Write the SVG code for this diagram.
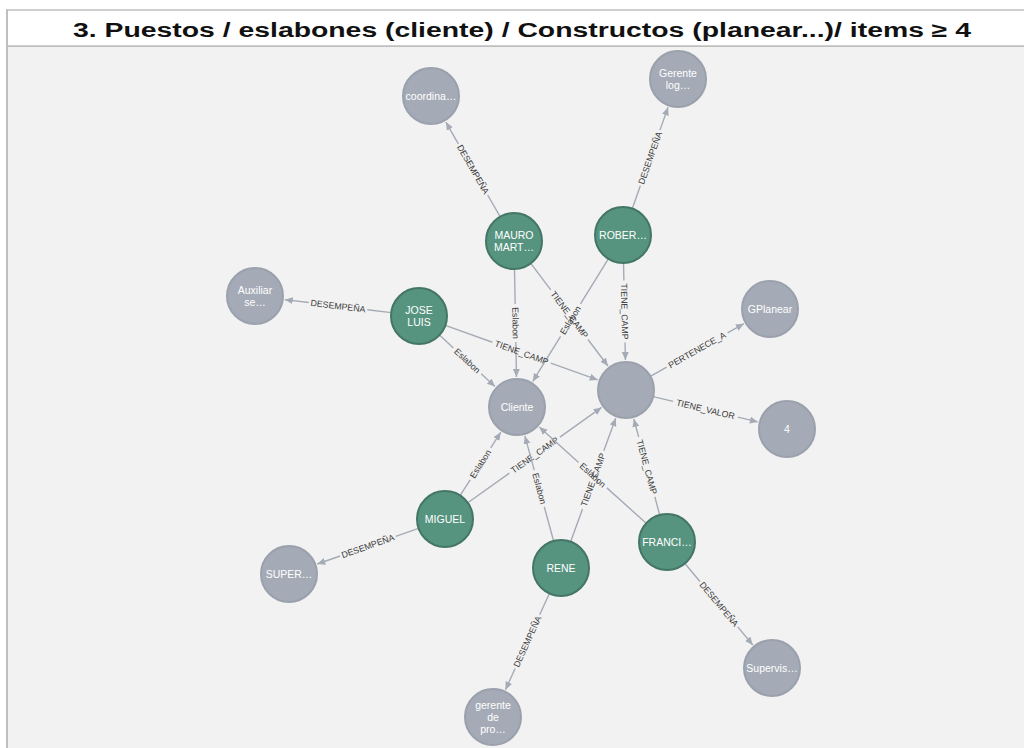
<svg xmlns="http://www.w3.org/2000/svg" width="1024" height="748" viewBox="0 0 1024 748">
<style>
.bg{fill:#f2f2f2}
.frame{stroke:#bfbfbf;fill:none}
.title{font-family:"Liberation Sans",Arial,sans-serif;font-weight:bold;font-size:20px;fill:#111}
.ng{fill:#a5abb6;stroke:#9aa1ac;stroke-width:2}
.nr{fill:#569480;stroke:#447666;stroke-width:2}
.nt{font-family:"Liberation Sans",Arial,Helvetica,sans-serif;font-size:10.5px;fill:#ffffff;text-anchor:middle}
.e{stroke:#a5abb6;stroke-width:1.4;fill:none;marker-end:url(#arr)}
.el{font-family:"Liberation Sans",Arial,Helvetica,sans-serif;font-size:8.8px;fill:#3a3a3a;text-anchor:middle}
</style>
<defs>
<marker id="arr" markerWidth="9" markerHeight="8" refX="8" refY="3.5" orient="auto" markerUnits="userSpaceOnUse">
<path d="M0,0 L8,3.5 L0,7 z" fill="#a5abb6"/>
</marker>
</defs>
<rect x="0" y="0" width="1024" height="748" fill="#ffffff"/>
<rect class="bg" x="8" y="47" width="1016" height="701"/>
<g id="frame">
<line class="frame" x1="7" y1="10" x2="1024" y2="10" stroke-width="1.7"/>
<line class="frame" x1="7" y1="46.2" x2="1024" y2="46.2" stroke-width="1.7"/>
<line class="frame" x1="7" y1="9.2" x2="7" y2="748" stroke-width="2"/>
<text class="title" x="73" y="37" textLength="898" lengthAdjust="spacingAndGlyphs">3. Puestos / eslabones (cliente) / Constructos (planear...)/  items ≥ 4</text>
</g>
<g id="connectors">
<line class="e" x1="500.09" y1="216.70" x2="445.90" y2="122.04" stroke-dasharray="25 59 300"/>
<text class="el" transform="translate(473.0,169.4) rotate(60.2)" dy="3">DESEMPEÑA</text>
<line class="e" x1="632.31" y1="208.59" x2="668.02" y2="107.29" stroke-dasharray="24.2 59 300"/>
<text class="el" transform="translate(650.2,157.9) rotate(-70.6)" dy="3">DESEMPEÑA</text>
<line class="e" x1="391.21" y1="312.61" x2="284.78" y2="299.63" stroke-dasharray="24.1 59 300"/>
<text class="el" transform="translate(338.0,306.1) rotate(6.95)" dy="3">DESEMPEÑA</text>
<line class="e" x1="418.59" y1="528.31" x2="317.29" y2="564.02" stroke-dasharray="24.2 59 300"/>
<text class="el" transform="translate(367.9,546.2) rotate(-19.4)" dy="3">DESEMPEÑA</text>
<line class="e" x1="549.37" y1="593.47" x2="505.46" y2="689.71" stroke-dasharray="23.4 59 300"/>
<text class="el" transform="translate(527.4,641.6) rotate(-65.5)" dy="3">DESEMPEÑA</text>
<line class="e" x1="684.93" y1="563.51" x2="752.79" y2="644.95" stroke-dasharray="23.5 59 300"/>
<text class="el" transform="translate(718.9,604.2) rotate(50.2)" dy="3">DESEMPEÑA</text>
<line class="e" x1="514.51" y1="268.99" x2="516.46" y2="377.01" stroke-dasharray="35 38 300"/>
<text class="el" transform="translate(515.5,323.0) rotate(88.96)" dy="3">Eslabon</text>
<line class="e" x1="530.82" y1="263.38" x2="607.97" y2="366.02" stroke-dasharray="33.2 62 300"/>
<text class="el" transform="translate(569.4,314.7) rotate(53.07)" dy="3">TIENE_CAMP</text>
<line class="e" x1="608.31" y1="258.84" x2="532.74" y2="381.46" stroke-dasharray="53 38 300"/>
<text class="el" transform="translate(570.5,320.2) rotate(-58.4)" dy="3">Eslabon</text>
<line class="e" x1="623.54" y1="262.99" x2="625.42" y2="360.01" stroke-dasharray="17.5 62 300"/>
<text class="el" transform="translate(624.5,311.5) rotate(88.9)" dy="3">TIENE_CAMP</text>
<line class="e" x1="439.52" y1="335.05" x2="495.02" y2="386.59" stroke-dasharray="18.9 38 300"/>
<text class="el" transform="translate(467.3,360.8) rotate(42.9)" dy="3">Eslabon</text>
<line class="e" x1="445.37" y1="325.43" x2="597.75" y2="379.90" stroke-dasharray="49.9 62 300"/>
<text class="el" transform="translate(521.6,352.7) rotate(19.67)" dy="3">TIENE_CAMP</text>
<line class="e" x1="460.14" y1="495.45" x2="500.78" y2="432.24" stroke-dasharray="18.6 38 300"/>
<text class="el" transform="translate(480.5,463.9) rotate(-57.3)" dy="3">Eslabon</text>
<line class="e" x1="467.80" y1="502.75" x2="601.57" y2="407.41" stroke-dasharray="51.1 62 300"/>
<text class="el" transform="translate(534.7,455.1) rotate(-35.5)" dy="3">TIENE_CAMP</text>
<line class="e" x1="553.62" y1="540.99" x2="524.91" y2="435.94" stroke-dasharray="35.45 38 300"/>
<text class="el" transform="translate(539.3,488.5) rotate(74.7)" dy="3">Eslabon</text>
<line class="e" x1="570.60" y1="541.70" x2="615.71" y2="418.18" stroke-dasharray="34.75 62 300"/>
<text class="el" transform="translate(593.2,479.9) rotate(-69.9)" dy="3">TIENE_CAMP</text>
<line class="e" x1="646.19" y1="523.27" x2="539.30" y2="427.07" stroke-dasharray="52.9 38 300"/>
<text class="el" transform="translate(592.7,475.2) rotate(42)" dy="3">Eslabon</text>
<line class="e" x1="659.71" y1="514.97" x2="633.81" y2="418.97" stroke-dasharray="18.7 62 300"/>
<text class="el" transform="translate(646.8,467.0) rotate(74.9)" dy="3">TIENE_CAMP</text>
<line class="e" x1="650.40" y1="376.27" x2="743.85" y2="323.71" stroke-dasharray="18.6 70 300"/>
<text class="el" transform="translate(697.1,350.0) rotate(-29.4)" dy="3">PERTENECE_A</text>
<line class="e" x1="653.21" y1="396.59" x2="757.84" y2="421.94" stroke-dasharray="20.5 66.6 300"/>
<text class="el" transform="translate(705.5,409.3) rotate(13.6)" dy="3">TIENE_VALOR</text>
</g>
<g id="n-coordina"><circle class="ng" cx="431" cy="96" r="28"/><text class="nt" x="431" y="100">coordina…</text></g>
<g id="n-gerente-log"><circle class="ng" cx="678" cy="79" r="28"/><text class="nt" x="678" y="77">Gerente</text><text class="nt" x="678" y="89">log…</text></g>
<g id="n-mauro"><circle class="nr" cx="514" cy="241" r="28"/><text class="nt" x="514" y="239">MAURO</text><text class="nt" x="514" y="251">MART…</text></g>
<g id="n-rober"><circle class="nr" cx="623" cy="235" r="28"/><text class="nt" x="623" y="239">ROBER…</text></g>
<g id="n-auxiliar"><circle class="ng" cx="255" cy="296" r="28"/><text class="nt" x="255" y="294">Auxiliar</text><text class="nt" x="255" y="306">se…</text></g>
<g id="n-jose"><circle class="nr" cx="419" cy="316" r="28"/><text class="nt" x="419" y="314">JOSE</text><text class="nt" x="419" y="326">LUIS</text></g>
<g id="n-cliente"><circle class="ng" cx="517" cy="407" r="28"/><text class="nt" x="517" y="411">Cliente</text></g>
<g id="n-center"><circle class="ng" cx="626" cy="390" r="28"/></g>
<g id="n-gplanear"><circle class="ng" cx="770" cy="309" r="28"/><text class="nt" x="770" y="313">GPlanear</text></g>
<g id="n-4"><circle class="ng" cx="787" cy="429" r="28"/><text class="nt" x="787" y="433">4</text></g>
<g id="n-miguel"><circle class="nr" cx="445" cy="519" r="28"/><text class="nt" x="445" y="523">MIGUEL</text></g>
<g id="n-super"><circle class="ng" cx="289" cy="574" r="28"/><text class="nt" x="289" y="578">SUPER…</text></g>
<g id="n-rene"><circle class="nr" cx="561" cy="568" r="28"/><text class="nt" x="561" y="572">RENE</text></g>
<g id="n-franci"><circle class="nr" cx="667" cy="542" r="28"/><text class="nt" x="667" y="546">FRANCI…</text></g>
<g id="n-supervis"><circle class="ng" cx="772" cy="668" r="28"/><text class="nt" x="772" y="672">Supervis…</text></g>
<g id="n-gerente-pro"><circle class="ng" cx="493" cy="717" r="28"/><text class="nt" x="493" y="709">gerente</text><text class="nt" x="493" y="721">de</text><text class="nt" x="493" y="733">pro…</text></g>
</svg>
